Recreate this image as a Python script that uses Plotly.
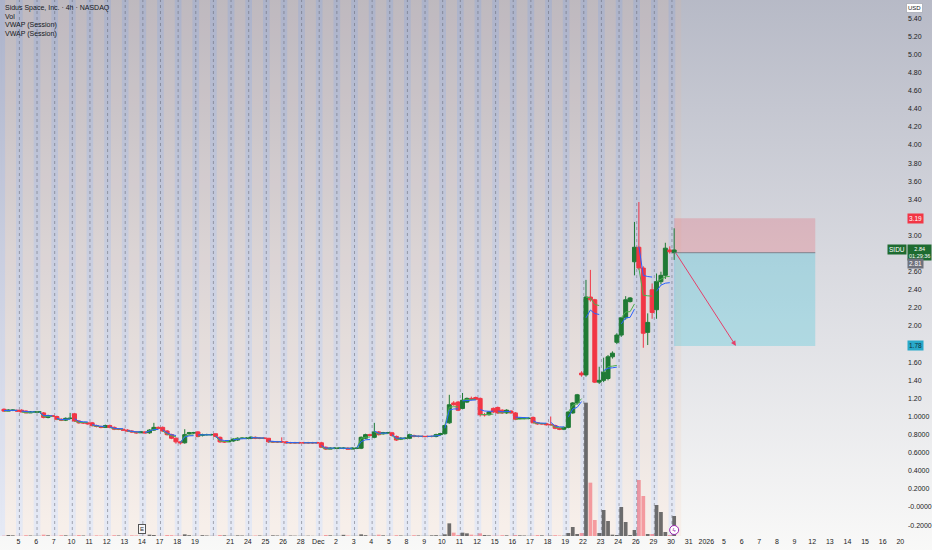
import base64
import plotly.graph_objects as go

# Sidus Space (SIDU) 4h bars, extended hours: 4 bars per trading day, Nov 4 -> Dec 30
day_labels = ["4", "5", "6", "7", "10", "11", "12", "13", "14", "17", "18", "19", "", "21",
              "24", "25", "26", "28", "Dec", "2", "3", "4", "5", "8", "9", "10", "11", "12",
              "15", "16", "17", "18", "19", "22", "23", "24", "26", "29", "30", "31", "2026",
              "5", "6", "7", "8", "9", "12", "13", "14", "15", "16", "20"]

opens = [1.08, 1.06, 1.07, 1.07,  1.07, 1.06, 1.04, 1.05,  1.05, 1.04, 0.99, 1.01,
         1.00, 0.97, 0.96, 0.98,  1.03, 0.95, 0.93, 0.93,  0.93, 0.90, 0.89, 0.88,
         0.90, 0.88, 0.86, 0.86,  0.85, 0.84, 0.83, 0.82,  0.83, 0.82, 0.85, 0.88,
         0.88, 0.84, 0.80, 0.76,  0.72, 0.71, 0.81, 0.82,  0.83, 0.79, 0.80, 0.80,
         0.81, 0.77, 0.72, 0.72,  0.73, 0.74, 0.76, 0.76,  0.76, 0.77, 0.76, 0.76,
         0.76, 0.72, 0.72, 0.72,  0.72, 0.71, 0.71, 0.71,  0.71, 0.71, 0.71, 0.71,
         0.71, 0.66, 0.64, 0.65,  0.65, 0.65, 0.65, 0.64,  0.65, 0.65, 0.76, 0.80,
         0.77, 0.83, 0.81, 0.82,  0.82, 0.78, 0.75, 0.76,  0.76, 0.79, 0.78, 0.78,
         0.78, 0.78, 0.78, 0.80,  0.81, 0.93, 1.15, 1.16,  1.09, 1.16, 1.20, 1.21,
         1.20, 1.02, 1.02, 1.09,  1.10, 1.07, 1.04, 1.06,  1.04, 0.98, 0.98, 0.98,
         0.99, 0.93, 0.92, 0.92,  0.91, 0.90, 0.87, 0.86,  0.88, 1.04, 1.15, 1.48,
         1.46, 2.32, 2.29, 1.38,  1.40, 1.42, 1.66, 1.82,  1.90, 2.09, 2.27, 2.71,
         2.87, 2.64, 1.93, 2.40,  2.18, 2.49, 2.56, 2.84,  2.81]
highs = [1.09, 1.08, 1.08, 1.07,  1.08, 1.07, 1.06, 1.06,  1.06, 1.05, 1.02, 1.01,
         1.01, 0.98, 0.99, 1.04,  1.04, 0.96, 0.94, 0.93,  0.94, 0.91, 0.90, 0.91,
         0.91, 0.89, 0.87, 0.86,  0.86, 0.85, 0.84, 0.84,  0.84, 0.86, 0.93, 0.89,
         0.89, 0.85, 0.81, 0.77,  0.73, 0.86, 0.83, 0.83,  0.84, 0.81, 0.81, 0.81,
         0.81, 0.78, 0.73, 0.74,  0.76, 0.77, 0.77, 0.77,  0.78, 0.78, 0.77, 0.77,
         0.76, 0.73, 0.73, 0.77,  0.73, 0.72, 0.72, 0.72,  0.72, 0.72, 0.72, 0.72,
         0.72, 0.67, 0.66, 0.66,  0.66, 0.66, 0.66, 0.66,  0.66, 0.78, 0.81, 0.81,
         0.93, 0.84, 0.83, 0.83,  0.83, 0.79, 0.77, 0.77,  0.81, 0.80, 0.79, 0.79,
         0.79, 0.79, 0.81, 0.82,  0.91, 1.24, 1.17, 1.17,  1.26, 1.21, 1.22, 1.22,
         1.21, 1.04, 1.06, 1.10,  1.11, 1.08, 1.08, 1.07,  1.05, 0.99, 0.99, 0.99,
         1.00, 0.94, 0.93, 0.93,  1.00, 0.91, 0.88, 0.89,  1.06, 1.16, 1.25, 1.50,
         2.51, 2.62, 2.30, 1.55,  1.65, 1.68, 1.72, 1.92,  2.10, 2.33, 2.32, 3.15,
         3.37, 2.66, 2.14, 2.47,  2.58, 2.60, 2.92, 2.88,  3.08]
lows = [1.05, 1.06, 1.06, 1.05,  1.05, 1.04, 1.04, 1.05,  1.04, 0.98, 0.98, 1.00,
        0.96, 0.95, 0.95, 0.97,  0.94, 0.92, 0.92, 0.91,  0.89, 0.88, 0.87, 0.88,
        0.87, 0.85, 0.85, 0.84,  0.83, 0.82, 0.81, 0.82,  0.81, 0.81, 0.84, 0.86,
        0.83, 0.79, 0.75, 0.70,  0.69, 0.70, 0.80, 0.81,  0.77, 0.78, 0.79, 0.79,
        0.77, 0.71, 0.71, 0.72,  0.72, 0.73, 0.75, 0.75,  0.75, 0.75, 0.75, 0.75,
        0.71, 0.71, 0.71, 0.71,  0.70, 0.70, 0.70, 0.70,  0.70, 0.70, 0.70, 0.70,
        0.66, 0.63, 0.64, 0.64,  0.64, 0.64, 0.64, 0.64,  0.64, 0.64, 0.75, 0.78,
        0.76, 0.79, 0.80, 0.81,  0.78, 0.73, 0.74, 0.75,  0.75, 0.77, 0.77, 0.77,
        0.77, 0.77, 0.77, 0.79,  0.80, 0.92, 1.12, 1.06,  1.08, 1.15, 1.18, 1.18,
        1.00, 1.00, 1.01, 1.04,  1.03, 1.03, 1.03, 1.03,  0.96, 0.97, 0.97, 0.97,
        0.93, 0.91, 0.91, 0.90,  0.90, 0.86, 0.85, 0.85,  0.87, 1.03, 1.13, 1.44,
        1.44, 2.27, 1.37, 1.36,  1.38, 1.40, 1.64, 1.80,  1.88, 2.07, 2.26, 2.56,
        2.62, 1.76, 1.79, 2.08,  2.08, 2.46, 2.52, 2.80,  2.73]
closes = [1.06, 1.07, 1.07, 1.06,  1.05, 1.04, 1.05, 1.05,  1.05, 0.99, 1.01, 1.00,
          0.97, 0.96, 0.98, 0.98,  0.95, 0.93, 0.93, 0.92,  0.90, 0.89, 0.88, 0.90,
          0.88, 0.86, 0.86, 0.85,  0.84, 0.83, 0.82, 0.83,  0.82, 0.85, 0.88, 0.87,
          0.84, 0.80, 0.76, 0.72,  0.71, 0.80, 0.82, 0.82,  0.78, 0.80, 0.80, 0.80,
          0.78, 0.72, 0.72, 0.73,  0.75, 0.76, 0.76, 0.76,  0.77, 0.76, 0.76, 0.76,
          0.72, 0.72, 0.72, 0.72,  0.71, 0.71, 0.71, 0.71,  0.71, 0.71, 0.71, 0.71,
          0.66, 0.64, 0.65, 0.65,  0.65, 0.65, 0.64, 0.65,  0.65, 0.77, 0.80, 0.79,
          0.83, 0.80, 0.82, 0.82,  0.79, 0.74, 0.76, 0.76,  0.80, 0.78, 0.78, 0.78,
          0.78, 0.78, 0.80, 0.81,  0.90, 1.13, 1.13, 1.07,  1.18, 1.20, 1.19, 1.19,
          1.02, 1.02, 1.05, 1.05,  1.04, 1.04, 1.07, 1.04,  0.97, 0.98, 0.98, 0.98,
          0.93, 0.92, 0.92, 0.91,  0.91, 0.87, 0.86, 0.88,  1.05, 1.15, 1.24, 1.46,
          2.32, 2.29, 1.38, 1.40,  1.49, 1.66, 1.70, 1.90,  2.09, 2.29, 2.31, 2.87,
          2.64, 1.92, 2.04, 2.15,  2.49, 2.56, 2.86, 2.82,  2.84]
# volume in millions of shares
volumes = [0.2, 0.6, 0.4, 0.1,  0.1, 0.5, 0.3, 0.1,  0.1, 0.8, 0.4, 0.1,
           0.1, 0.5, 0.4, 0.1,  0.2, 0.6, 0.3, 0.1,  0.1, 0.4, 0.3, 0.1,
           0.1, 0.5, 0.3, 0.1,  0.1, 0.4, 0.3, 0.1,  0.1, 0.8, 0.6, 0.1,
           0.1, 0.6, 0.5, 0.2,  0.2, 1.0, 0.5, 0.1,  0.1, 0.5, 0.3, 0.1,
           0.1, 0.6, 0.4, 0.1,  0.1, 0.4, 0.3, 0.1,  0.1, 0.3, 0.3, 0.1,
           0.1, 0.4, 0.3, 0.1,  0.1, 0.3, 0.2, 0.1,  0.1, 0.2, 0.1, 0.05,
           0.1, 0.6, 0.4, 0.1,  0.1, 0.7, 0.3, 0.1,  0.1, 1.0, 0.5, 0.1,
           0.2, 0.8, 0.4, 0.1,  0.1, 0.5, 0.3, 0.1,  0.1, 0.5, 0.3, 0.1,
           0.1, 0.4, 0.5, 0.2,  1.0, 7.6, 2.0, 0.6,  2.0, 1.6, 0.8, 0.3,
           1.6, 0.6, 0.4, 0.2,  0.2, 0.5, 0.4, 0.1,  0.6, 0.4, 0.3, 0.1,
           0.2, 0.6, 0.4, 0.1,  0.2, 0.5, 0.3, 0.2,  1.8, 5.4, 1.2, 1.8,
           80.0, 32.0, 9.6, 1.8,  15.6, 9.0, 0.8, 0.6,  17.4, 8.4, 0.6, 3.6,
           33.6, 24.0, 1.2, 1.2,  18.6, 14.4, 2.4, 0.6,  12.0]

# short position drawing
entry_price = 2.81
stop_price = 3.19
target_price = 1.78
last_price = 2.84
countdown = "01:29:36"
pos_start, pos_end = 152, 184
arrow_end = 166

bars_per_day = 4
n_bars = len(closes)
n_days = len(day_labels)
bars = list(range(n_bars))

up_col = "#1f7a35"
down_col = "#f23645"
font = "Liberation Sans"

fig = go.Figure()

# background gradient (grey at the top fading to white)
svg = ('<svg xmlns="http://www.w3.org/2000/svg" viewBox="0 0 10 100" preserveAspectRatio="none">'
       '<defs><linearGradient id="g" x1="0" y1="0" x2="0" y2="1">'
       '<stop offset="0" stop-color="#b5b8c5"/><stop offset="0.5" stop-color="#d9dae0"/>'
       '<stop offset="1" stop-color="#f9f9f8"/></linearGradient></defs>'
       '<rect width="10" height="100" fill="url(#g)"/></svg>')
fig.add_layout_image(dict(source="data:image/svg+xml;base64," + base64.b64encode(svg.encode()).decode(),
                          xref="paper", yref="paper", x=0, y=1.03, sizex=1.04, sizey=1.06,
                          sizing="stretch", layer="below"))

# session background stripes and session breaks
stripe_end = n_bars + 0.6
for d in range(-1, n_bars // bars_per_day + 1):
    start = d * bars_per_day - 0.5
    parts = [(start, start + 0.75, "rgba(80,120,235,0.10)"),
             (start + 0.75, start + 3.25, "rgba(255,180,130,0.10)"),
             (start + 3.25, start + 4, "rgba(80,120,235,0.10)")]
    for x0, x1, col in parts:
        x0 = max(x0, -1)
        x1 = min(x1, stripe_end)
        if x1 <= x0:
            continue
        fig.add_shape(type="rect", xref="x", yref="paper", x0=x0, x1=x1, y0=0, y1=1,
                      fillcolor=col, line_width=0, layer="below")
    if 0 < start < n_bars:
        fig.add_shape(type="line", xref="x", yref="paper", x0=start, x1=start, y0=0, y1=1,
                      line=dict(color="rgba(95,98,110,0.5)", width=1, dash="3px,3px"), layer="below")

# position tool: stop zone, target zone, entry line
fig.add_shape(type="rect", x0=pos_start, x1=pos_end, y0=entry_price, y1=stop_price,
              fillcolor="rgba(242,54,69,0.2)", line_width=0, layer="below")
fig.add_shape(type="rect", x0=pos_start, x1=pos_end, y0=target_price, y1=entry_price,
              fillcolor="rgba(0,188,212,0.22)", line_width=0, layer="below")
fig.add_shape(type="line", x0=pos_start, x1=pos_end, y0=entry_price, y1=entry_price,
              line=dict(color="rgba(110,115,125,0.8)", width=1))

# volume
vol_cols = ["rgba(75,75,75,0.8)" if c >= o else "rgba(242,54,69,0.45)" for o, c in zip(opens, closes)]
fig.add_trace(go.Bar(x=bars, y=volumes, marker=dict(color=vol_cols, line_width=0), width=0.85,
                     yaxis="y2", hoverinfo="skip"))

# session VWAPs (hlc3 and close sources), reset every trading day
vx, v1, v2 = [], [], []
for d in range(0, n_bars, bars_per_day):
    pv1 = pv2 = vv = 0.0
    for i in range(d, min(d + bars_per_day, n_bars)):
        tp = (highs[i] + lows[i] + closes[i]) / 3
        pv1 += tp * volumes[i]
        pv2 += closes[i] * volumes[i]
        vv += volumes[i]
        vx.append(i)
        v1.append(pv1 / vv)
        v2.append(pv2 / vv)
    vx.append(None)
    v1.append(None)
    v2.append(None)
fig.add_trace(go.Scatter(x=vx, y=v2, mode="lines", line=dict(color="#4caf50", width=1), hoverinfo="skip"))
fig.add_trace(go.Scatter(x=vx, y=v1, mode="lines", line=dict(color="#2962ff", width=1), hoverinfo="skip"))

fig.add_trace(go.Candlestick(x=bars, open=opens, high=highs, low=lows, close=closes,
                             increasing=dict(line=dict(color=up_col, width=1), fillcolor=up_col),
                             decreasing=dict(line=dict(color=down_col, width=1), fillcolor=down_col),
                             whiskerwidth=0))

# dividend marker on the last bar
fig.add_trace(go.Scatter(x=[n_bars - 1], y=[3.6], yaxis="y2", mode="markers+text", text=["ϟ"],
                         textposition="middle center", textfont=dict(size=6, color="#9c27b0"),
                         marker=dict(size=9, color="white", line=dict(color="#9c27b0", width=1)),
                         hoverinfo="skip"))

# arrow of the short idea
fig.add_annotation(x=arrow_end, y=target_price, ax=pos_start + 0.2, ay=entry_price + 0.01,
                   xref="x", yref="y", axref="x", ayref="y", text="", showarrow=True,
                   arrowhead=2, arrowsize=1, arrowwidth=1, arrowcolor="#e5406a")

# legend lines at top left
legend_lines = ["Sidus Space, Inc. · 4h · NASDAQ", "Vol", "VWAP (Session)", "VWAP (Session)"]
for i, t in enumerate(legend_lines):
    fig.add_annotation(x=0, y=1, xref="paper", yref="paper", xanchor="left", yanchor="top",
                       xshift=3, yshift=-2 - 8.5 * i, text=t, showarrow=False,
                       font=dict(family=font, size=7, color="#131722"))

# earnings marker
fig.add_annotation(x=31.3, y=0, xref="x", yref="paper", yanchor="bottom", yshift=2, text="E",
                   showarrow=False, font=dict(family=font, size=6, color="#333"),
                   bgcolor="rgba(255,255,255,0.6)", bordercolor="#555", borderwidth=1, borderpad=1)

# price scale labels
def price_tag(y, text, bg, fg="white", yshift=0, xanchor="left", xshift=4, size=6.5):
    fig.add_annotation(x=1, y=y, xref="paper", yref="y", xanchor=xanchor, xshift=xshift, yshift=yshift,
                       text=text, showarrow=False, bgcolor=bg, borderpad=1,
                       font=dict(family=font, size=size, color=fg))

price_tag(stop_price, "%.2f" % stop_price, "#f23645")
price_tag(last_price, "SIDU", "#1e6b30", xanchor="right", xshift=4)
price_tag(last_price, "%.2f<br>%s" % (last_price, countdown), "#1e6b30", yshift=-3, xshift=4, size=5.5)
price_tag(entry_price, "%.2f" % entry_price, "#6f727d", yshift=-11)
price_tag(target_price, "%.2f" % target_price, "#29a9c9", fg="#0d2f3a")
fig.add_annotation(x=1, y=1, xref="paper", yref="paper", xanchor="left", yanchor="top", xshift=3, yshift=-3,
                   text="USD", showarrow=False, bgcolor="white", bordercolor="#b2b5be", borderwidth=1,
                   borderpad=1, font=dict(family=font, size=6, color="#131722"))

# price axis ticks (TradingView prints the low ones with 4 decimals)
y_ticks = [5.4, 5.2, 5.0, 4.8, 4.6, 4.4, 4.2, 4.0, 3.8, 3.6, 3.4, 3.0, 2.6, 2.4, 2.2, 2.0,
           1.6, 1.4, 1.2, 1.0, 0.8, 0.6, 0.4, 0.2, 0.0, -0.2]
y_text = ["%.2f" % v if v > 1.1 else "%.4f" % v for v in y_ticks]
y_text[y_ticks.index(0.0)] = "-0.0000"

fig.update_layout(
    width=932, height=550,
    margin=dict(l=0, r=27, t=0, b=14),
    paper_bgcolor="#f9f9f8", plot_bgcolor="rgba(0,0,0,0)",
    showlegend=False, boxgap=0.1, boxgroupgap=0,
    xaxis=dict(range=[-0.9, 203.9], showgrid=False, zeroline=False, rangeslider=dict(visible=False),
               tickmode="array", tickvals=[d * bars_per_day - 0.7 for d in range(n_days)],
               ticktext=day_labels, ticks="", tickfont=dict(family=font, size=7, color="#222")),
    yaxis=dict(range=[-0.32, 5.602], side="right", showgrid=False, zeroline=False, ticks="",
               tickmode="array", tickvals=y_ticks, ticktext=y_text, ticklabelstandoff=4,
               tickfont=dict(family=font, size=7, color="#222")),
    yaxis2=dict(range=[0, 321.6], overlaying="y", side="right", visible=False, showgrid=False),
)

# the page is photographed at exactly the figure size, so drop the default body margin
fig.write_html("out.html", config={"displayModeBar": False},
               post_script="document.body.style.margin='0';")
